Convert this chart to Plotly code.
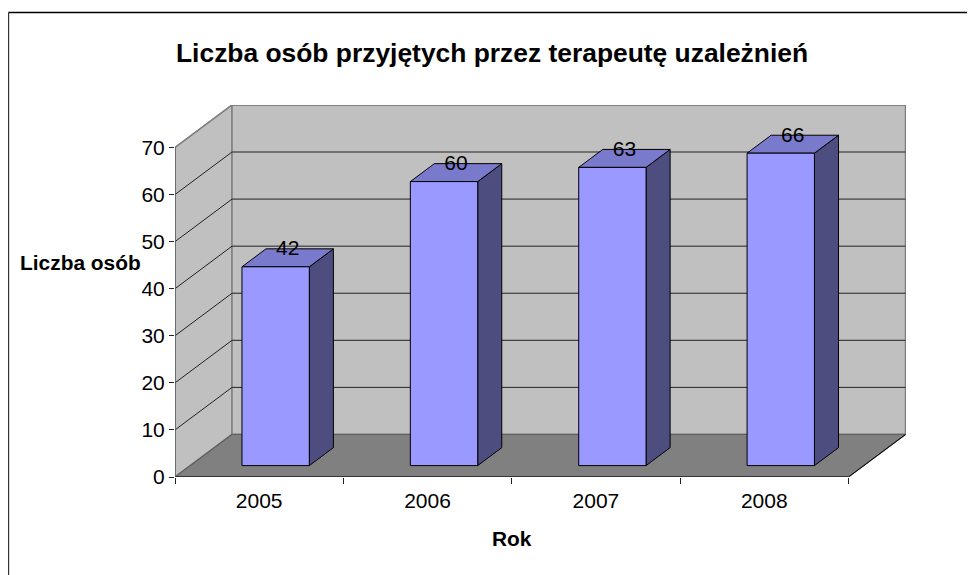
import plotly.graph_objects as go

# ---- data ----
years = ["2005", "2006", "2007", "2008"]
people = [42, 60, 63, 66]
y_ticks = [0, 10, 20, 30, 40, 50, 60, 70]
title_text = "Liczba osób przyjętych przez terapeutę uzależnień"
y_title = "Liczba osób"
x_title = "Rok"

# ---- geometry (page pixels minus the 8px page margin) ----
OFF = 8.0
W, H = 975 - int(OFF), 575 - int(OFF)
LEFT, RIGHT, TOP, BOTTOM = 175.0 - OFF, 905.7 - OFF, 105.0 - OFF, 476.7 - OFF
CAT_PX = 168.3            # pixels per category
VAL_PX = 4.704            # pixels per value unit
DX = 57.0 / CAT_PX        # full depth, in category units
DY = 42.5 / VAL_PX        # full depth, in value units
N = len(years)
YMAX = y_ticks[-1]
BAR_W = 0.40
BAR_SHIFT = 0.007         # bars sit a touch right of the category centre
D0, D1 = 0.268, 0.69      # bar depth extent, fraction of full depth
BAR_K = 1.0055            # bars' vertical scale relative to the wall
LABEL_DROP = 0.6          # value labels sit slightly into the bar top


def proj(x, v, d=0.0):
    return x + d * DX, v + d * DY


def paper_x(px):
    return (px - OFF - LEFT) / (RIGHT - LEFT)


def paper_y(py):
    return (BOTTOM - (py - OFF)) / (BOTTOM - TOP)


def poly(points, fill, line="#000000", lw=1.0, closed=True):
    pts = [proj(*p) for p in points]
    if closed:
        pts.append(pts[0])
    return go.Scatter(
        x=[p[0] for p in pts], y=[p[1] for p in pts], mode="lines",
        fill="toself" if fill else None, fillcolor=fill,
        line=dict(color=line, width=lw), hoverinfo="skip",
        showlegend=False, cliponaxis=False, xaxis="x", yaxis="y",
    )


fig = go.Figure()

# walls and floor
fig.add_trace(poly([(0, 0, 0), (0, YMAX, 0), (0, YMAX, 1), (0, 0, 1)], "#C0C0C0", "#808080", 1.5))
fig.add_trace(poly([(0, 0, 1), (0, YMAX, 1), (N, YMAX, 1), (N, 0, 1)], "#C0C0C0", "#808080", 1.5))
fig.add_trace(poly([(0, 0, 0), (0, 0, 1), (N, 0, 1), (N, 0, 0)], "#808080", "#606060", 1.2))

# gridlines
for t in y_ticks[1:-1]:
    fig.add_trace(poly([(0, t, 0), (0, t, 1), (N, t, 1)], None, "#222222", 1.0, closed=False))
fig.add_trace(poly([(0, YMAX, 1), (N, YMAX, 1)], None, "#808080", 2.0, closed=False))
fig.add_trace(poly([(0, YMAX, 0), (0, YMAX, 1)], None, "#808080", 1.2, closed=False))
fig.add_trace(poly([(N, 0, 0), (N, 0, 1)], None, "#000000", 1.0, closed=False))

# axis lines on the front plane
fig.add_trace(poly([(0, 0, 0), (0, YMAX, 0)], None, "#606060", 1.5, closed=False))
fig.add_trace(poly([(0, 0, 0), (N, 0, 0)], None, "#222222", 1.5, closed=False))

# bars
for i, val in enumerate(people):
    v = val * BAR_K
    x0 = i + 0.5 + BAR_SHIFT - BAR_W / 2
    x1 = i + 0.5 + BAR_SHIFT + BAR_W / 2
    fig.add_trace(poly([(x1, 0, D0), (x1, v, D0), (x1, v, D1), (x1, 0, D1)], "#4D4D80"))
    fig.add_trace(poly([(x0, v, D0), (x1, v, D0), (x1, v, D1), (x0, v, D1)], "#7A7ACC"))
    fig.add_trace(poly([(x0, 0, D0), (x1, 0, D0), (x1, v, D0), (x0, v, D0)], "#9999FF"))

# value labels
lx, ly = [], []
for i, val in enumerate(people):
    px, py = proj(i + 0.5 + BAR_SHIFT, val * BAR_K - LABEL_DROP, (D0 + D1) / 2)
    lx.append(px)
    ly.append(py)
fig.add_trace(go.Scatter(
    x=lx, y=ly, mode="text", text=[str(p) for p in people],
    textposition="top center", textfont=dict(size=21, color="#000000"),
    hoverinfo="skip", showlegend=False, cliponaxis=False,
))

# second x axis carries the category labels, first carries the boundary ticks
fig.add_trace(go.Scatter(x=[0.5], y=[0], xaxis="x2", yaxis="y", mode="markers",
                         marker=dict(opacity=0), hoverinfo="skip", showlegend=False))

xrange_ = [0, (RIGHT - LEFT) / CAT_PX]
yrange_ = [0, (BOTTOM - TOP) / VAL_PX]

fig.update_layout(
    width=W, height=H, autosize=False,
    paper_bgcolor="#FFFFFF", plot_bgcolor="rgba(0,0,0,0)",
    margin=dict(l=LEFT, r=W - RIGHT, t=TOP, b=H - BOTTOM, pad=0),
    font=dict(family="Liberation Sans, Arial, sans-serif", color="#000000"),
    showlegend=False,
    xaxis=dict(range=xrange_, tickmode="array", tickvals=list(range(N + 1)),
               ticktext=[""] * (N + 1), ticks="outside", ticklen=6, tickwidth=1,
               tickcolor="#222222", showgrid=False, zeroline=False, showline=False),
    xaxis2=dict(range=xrange_, overlaying="x", side="bottom", anchor="y",
                tickmode="array", tickvals=[i + 0.5 for i in range(N)], ticktext=years,
                ticks="outside", ticklen=5, tickcolor="rgba(0,0,0,0)",
                tickfont=dict(size=21), showgrid=False, zeroline=False, showline=False),
    yaxis=dict(range=yrange_, tickmode="array", tickvals=y_ticks,
               ticks="outside", ticklen=5, tickwidth=1, tickcolor="#222222",
               tickfont=dict(size=21), showgrid=False, zeroline=False, showline=False),
    shapes=[
        dict(type="line", xref="paper", yref="paper", layer="above",
             x0=paper_x(8.5), x1=paper_x(975), y0=paper_y(12.5), y1=paper_y(12.5),
             line=dict(color="#000000", width=1.5)),
        dict(type="line", xref="paper", yref="paper", layer="above",
             x0=paper_x(8.5), x1=paper_x(8.5), y0=paper_y(12.5), y1=paper_y(575),
             line=dict(color="#333333", width=1.5)),
    ],
    annotations=[
        dict(text=f"<b>{title_text}</b>", xref="paper", yref="paper", showarrow=False,
             x=paper_x(491.5), y=paper_y(53), xanchor="center", yanchor="middle",
             font=dict(size=26.4, color="#000000")),
        dict(text=f"<b>{y_title}</b>", xref="paper", yref="paper", showarrow=False,
             x=paper_x(81), y=paper_y(262), xanchor="center", yanchor="middle",
             font=dict(size=20.9, color="#000000")),
        dict(text=f"<b>{x_title}</b>", xref="paper", yref="paper", showarrow=False,
             x=paper_x(512), y=paper_y(538), xanchor="center", yanchor="middle",
             font=dict(size=20.9, color="#000000")),
    ],
)

fig.write_html("out.html", config=dict(displayModeBar=False))
